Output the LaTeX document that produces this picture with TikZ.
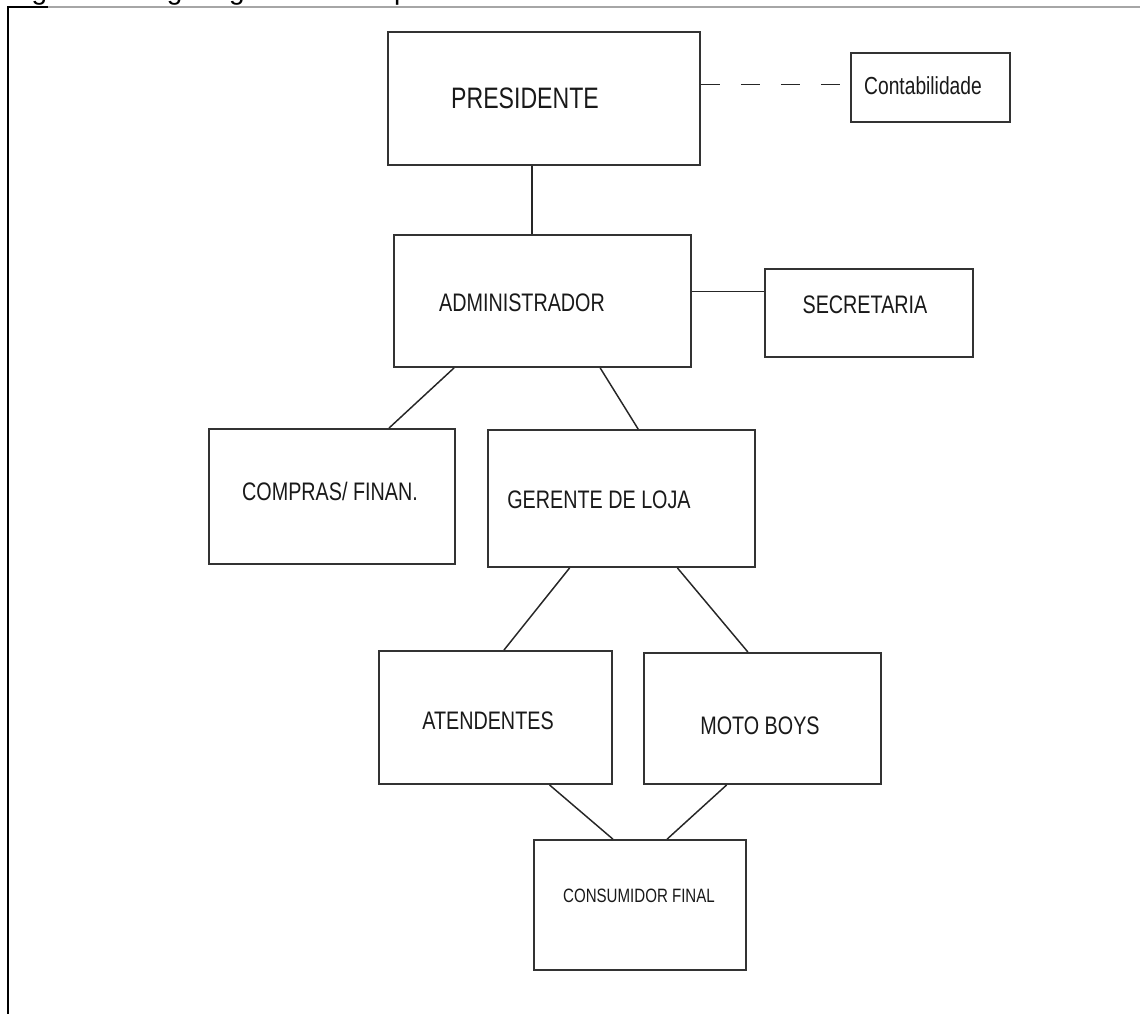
\documentclass[tikz,border=0pt]{standalone}
\usepackage{fontspec}
\setmainfont{Liberation Sans}
\newfontfamily\boxfont{Liberation Sans}[FakeStretch=0.78]
\usetikzlibrary{calc,fit}

\begin{document}
\begin{tikzpicture}[x=0.75pt,y=-0.75pt,
  box/.style={draw=black!80,line width=1.4pt,inner sep=0pt,fit={#1}},
  lbl/.style={inner sep=0pt,text=black!90,font=\boxfont\fontsize{19}{22}\selectfont},
  link/.style={draw=black!85,line width=1.1pt}]
\useasboundingbox (0,0) rectangle (1140,1014);
\clip (0,0) rectangle (1140,1014);

% page frame and cut caption
\node[anchor=base west,inner sep=0pt,font=\fontsize{21}{24}\selectfont] (cap) at (8,-1) {Figura 1 - Organograma da empresa};
\draw[gray!70,line width=1pt] (48,7) -- (1140,7);
\draw[black,line width=1.6pt] (48,7) -- (8,7) -- (8,1014);

\node[box={(388,32) (700,165)}] (pres) {};
\node[box={(851,53) (1010,122)}] (contab) {};
\node[box={(394,235) (691,367)}] (admin) {};
\node[box={(765,269) (973,357)}] (secr) {};
\node[box={(209,429) (455,564)}] (compras) {};
\node[box={(488,430) (755,567)}] (gerente) {};
\node[box={(379,651) (612,784)}] (atend) {};
\node[box={(644,653) (881,784)}] (moto) {};
\node[box={(534,840) (746,970)}] (cons) {};

\node[lbl,font=\boxfont\fontsize{22.2}{26}\selectfont] (presT) at (525,98) {PRESIDENTE};
\node[lbl,font=\boxfont\fontsize{18.5}{22}\selectfont] (contabT) at (923,86) {Contabilidade};
\node[lbl] (adminT) at (522,303) {ADMINISTRADOR};
\node[lbl] (secrT) at (865,305) {SECRETARIA};
\node[lbl] (comprasT) at (330,491) {COMPRAS/ FINAN.};
\node[lbl] (gerenteT) at (599,500) {GERENTE DE LOJA};
\node[lbl] (atendT) at (488,721) {ATENDENTES};
\node[lbl] (motoT) at (760,726) {MOTO BOYS};
\node[lbl,font=\boxfont\fontsize{14.5}{17}\selectfont] (consT) at (639,896) {CONSUMIDOR FINAL};

\coordinate (pa) at ($(pres.south west)!0.4615!(pres.south east)$);
\draw[link] (pa) -- (pa |- admin.north);
\coordinate (cw) at ($(contab.north west)!0.46!(contab.south west)$);
\draw[link,dash pattern=on 14pt off 16pt] (cw -| pres.east) -- (cw);
\coordinate (sw) at ($(secr.north west)!0.26!(secr.south west)$);
\draw[link] (sw -| admin.east) -- (sw);

\draw[link] ($(admin.south west)!0.204!(admin.south east)$) -- ($(compras.north west)!0.73!(compras.north east)$);
\draw[link] ($(admin.south west)!0.693!(admin.south east)$) -- ($(gerente.north west)!0.562!(gerente.north east)$);
\draw[link] ($(gerente.south west)!0.307!(gerente.south east)$) -- ($(atend.north west)!0.536!(atend.north east)$);
\draw[link] ($(gerente.south west)!0.708!(gerente.south east)$) -- ($(moto.north west)!0.439!(moto.north east)$);
\draw[link] ($(atend.south west)!0.73!(atend.south east)$) -- ($(cons.north west)!0.373!(cons.north east)$);
\draw[link] ($(moto.south west)!0.35!(moto.south east)$) -- ($(cons.north west)!0.627!(cons.north east)$);
\end{tikzpicture}
\end{document}
